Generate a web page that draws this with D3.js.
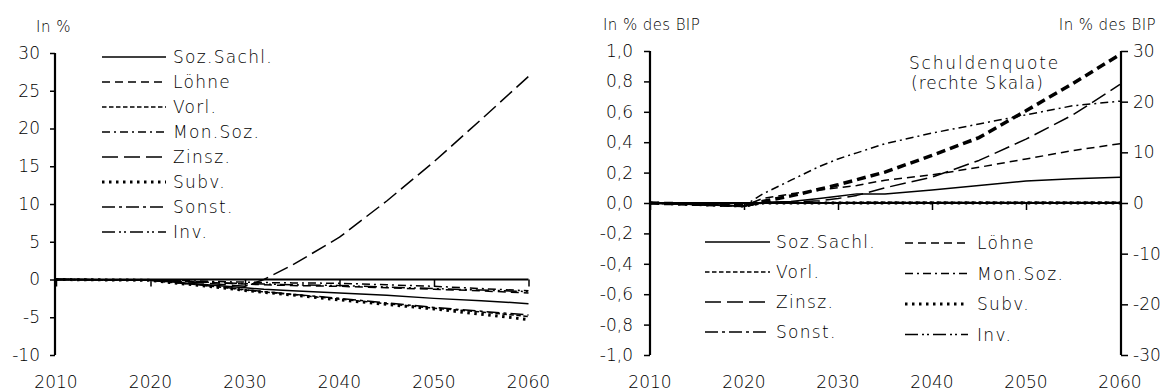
<!DOCTYPE html>
<html>
<head>
<meta charset="utf-8">
<script src="https://cdn.jsdelivr.net/npm/d3@7"></script>
<style>
  html, body { margin: 0; padding: 0; background: #fff; }
  svg { display: block; }
  text { font-family: "DejaVu Sans", sans-serif; font-weight: 200; fill: #000; }
</style>
</head>
<body>
<svg id="chart" width="1174" height="392"></svg>
<script>
// ---- data -------------------------------------------------------------
const years = [2010, 2020, 2022, 2025, 2028, 2030, 2032, 2035, 2040, 2045, 2050, 2055, 2060];
const seriesNames = ["Soz.Sachl.", "Löhne", "Vorl.", "Mon.Soz.", "Zinsz.", "Subv.", "Sonst.", "Inv."];

// Left panel: change in %
const pctSozSachl = [0, -0.1, -0.3, -0.6, -0.9, -1.1, -1.3, -1.5, -1.8, -2.1, -2.5, -2.8, -3.2];
const pctLoehne   = [0, -0.05, -0.15, -0.3, -0.5, -0.6, -0.7, -0.8, -0.9, -1.1, -1.3, -1.5, -1.8];
const pctVorl     = [0, -0.1, -0.35, -0.7, -1.1, -1.4, -1.65, -2.0, -2.6, -3.2, -3.8, -4.3, -4.9];
const pctMonSoz   = [0, -0.05, -0.1, -0.2, -0.3, -0.35, -0.4, -0.45, -0.5, -0.7, -0.9, -1.2, -1.5];
const pctZinsz    = [0, -0.05, -0.2, -0.4, -0.7, -0.9, 0.0, 1.9, 5.6, 10.4, 15.6, 21.2, 26.9];
const pctSubv     = [0, -0.1, -0.4, -0.75, -1.15, -1.45, -1.7, -2.05, -2.7, -3.3, -3.9, -4.6, -5.3];
const pctSonst    = [0, -0.1, -0.35, -0.7, -1.05, -1.35, -1.6, -1.95, -2.5, -3.1, -3.7, -4.2, -4.7];
const pctInv      = [0, -0.05, -0.15, -0.3, -0.45, -0.55, -0.6, -0.7, -0.8, -1.0, -1.2, -1.4, -1.6];

// Right panel: change in % of GDP (left scale)
const bipSozSachl = [0, -0.02, 0.005, 0.01, 0.03, 0.045, 0.06, 0.06, 0.085, 0.115, 0.145, 0.16, 0.17];
const bipLoehne   = [0, -0.02, 0.03, 0.06, 0.085, 0.1, 0.115, 0.15, 0.185, 0.235, 0.29, 0.345, 0.39];
const bipVorl     = [0, -0.02, 0, 0, 0.002, 0.003, 0.004, 0.005, 0.005, 0.005, 0.005, 0.005, 0.005];
const bipMonSoz   = [0, -0.02, 0.06, 0.15, 0.24, 0.29, 0.33, 0.39, 0.46, 0.52, 0.58, 0.64, 0.67];
const bipZinsz    = [0, -0.02, 0.0, 0.005, 0.015, 0.03, 0.05, 0.1, 0.17, 0.28, 0.42, 0.58, 0.78];
const bipSubv     = [0, -0.02, 0, 0, 0, 0, 0, 0, 0, 0, 0, 0, 0];
const bipSonst    = [0, -0.02, 0, 0, 0.002, 0.002, 0.003, 0.003, 0.003, 0.003, 0.003, 0.003, 0.003];
const bipInv      = [0, -0.02, 0, 0, 0, 0, 0, 0, 0, 0, 0, 0, 0];
// Debt ratio (right scale)
const debtRatio   = [0, -0.5, 0.3, 1.4, 2.7, 3.6, 4.6, 6.1, 9.4, 12.9, 18.2, 23.6, 29.3];

// Tick labels
const yearTicks = [2010, 2020, 2030, 2040, 2050, 2060];
const pctTicks  = [-10, -5, 0, 5, 10, 15, 20, 25, 30];
const bipTicks  = [-1, -0.8, -0.6, -0.4, -0.2, 0, 0.2, 0.4, 0.6, 0.8, 1];
const debtTicks = [-30, -20, -10, 0, 10, 20, 30];

// ---- styles per series ----------------------------------------------
const lineStyles = {
  "Soz.Sachl.": { dash: null, width: 1.5 },
  "Löhne":      { dash: "8,5", width: 1.5 },
  "Vorl.":      { dash: "4.5,2.5", width: 1.5 },
  "Mon.Soz.":   { dash: "8,4,2,4", width: 1.5 },
  "Zinsz.":     { dash: "16,6", width: 1.5 },
  "Subv.":      { dash: "2.5,4.5", width: 3 },
  "Sonst.":     { dash: "13,4,3,4", width: 1.5 },
  "Inv.":       { dash: "13,4,2,3,2,4", width: 1.5 }
};

const svg = d3.select("#chart");
const fmtComma = d => d3.format(".1f")(d).replace(".", ",").replace("−", "-");

function drawSeries(g, x, y, vals, style) {
  const line = d3.line().x((d, i) => x(years[i])).y(d => y(d));
  g.append("path")
    .attr("d", line(vals))
    .attr("fill", "none")
    .attr("stroke", "#000")
    .attr("stroke-width", style.width)
    .attr("stroke-dasharray", style.dash)
    .attr("stroke-linejoin", "round");
}

function legendItem(g, x0, x1, tx, ty, name) {
  const st = lineStyles[name];
  g.append("line").attr("x1", x0).attr("x2", x1).attr("y1", ty).attr("y2", ty)
    .attr("stroke", "#000").attr("stroke-width", st.width)
    .attr("stroke-dasharray", st.dash);
  g.append("text").attr("x", tx).attr("y", ty).attr("dy", "0.36em")
    .attr("font-size", 17).attr("letter-spacing", 1.3).text(name);
}

function styleAxis(sel) {
  sel.select(".domain").attr("stroke-width", 2.2);
  sel.selectAll(".tick line").attr("stroke-width", 1.5);
  sel.selectAll(".tick text").attr("font-size", 17)
    .attr("font-family", "DejaVu Sans, sans-serif");
}

// ---- left panel -------------------------------------------------------
{
  const x = d3.scaleLinear().domain([2010, 2060]).range([56, 528.5]);
  const y = d3.scaleLinear().domain([-10, 30]).range([355, 53]);
  const g = svg.append("g");

  g.append("text").attr("x", 36).attr("y", 32).attr("font-size", 15)
    .attr("letter-spacing", 0.5).text("In %");

  const yAx = g.append("g").attr("transform", "translate(55,0)")
    .call(d3.axisLeft(y).tickValues(pctTicks).tickSize(5).tickPadding(10)
      .tickFormat(d => String(d)));
  styleAxis(yAx);
  yAx.select(".domain").attr("d", `M0,${y(30)}V${y(-10)}`);

  // year labels along the bottom
  g.selectAll(".yl").data(yearTicks).join("text")
    .attr("x", d => x(d)).attr("y", 388).attr("text-anchor", "middle")
    .attr("font-size", 17).text(d => d);

  const series = [pctSozSachl, pctLoehne, pctVorl, pctMonSoz, pctZinsz, pctSubv, pctSonst, pctInv];
  series.forEach((vals, i) => drawSeries(g, x, y, vals, lineStyles[seriesNames[i]]));

  // zero axis with ticks pointing down
  const xAx = g.append("g").attr("transform", `translate(0,${y(0)})`)
    .call(d3.axisBottom(x).tickValues(yearTicks).tickSize(7).tickFormat(""));
  styleAxis(xAx);
  xAx.select(".domain").attr("d", `M55,0H${x(2060)}`);

  seriesNames.forEach((n, i) => legendItem(g, 102, 166, 173, 57 + i * 25, n));
}

// ---- right panel ------------------------------------------------------
{
  const x = d3.scaleLinear().domain([2010, 2060]).range([650, 1120]);
  const y = d3.scaleLinear().domain([-1, 1]).range([355, 51]);
  const y2 = d3.scaleLinear().domain([-30, 30]).range([355, 51]);
  const g = svg.append("g");

  g.append("text").attr("x", 603).attr("y", 30).attr("font-size", 15)
    .attr("letter-spacing", 0.4).text("In % des BIP");
  g.append("text").attr("x", 1156).attr("y", 30).attr("font-size", 15)
    .attr("text-anchor", "end").attr("letter-spacing", 0.4).text("In % des BIP");

  const yAx = g.append("g").attr("transform", "translate(650,0)")
    .call(d3.axisLeft(y).tickValues(bipTicks).tickSize(6).tickPadding(11)
      .tickFormat(fmtComma));
  styleAxis(yAx);
  yAx.select(".domain").attr("d", `M0,${y(1)}V${y(-1)}`);

  const y2Ax = g.append("g").attr("transform", "translate(1121,0)")
    .call(d3.axisRight(y2).tickValues(debtTicks).tickSize(7).tickPadding(5)
      .tickFormat(d => String(d)));
  styleAxis(y2Ax);
  y2Ax.select(".domain").attr("d", `M0,${y2(30)}V${y2(-30)}`);

  g.selectAll(".yl").data(yearTicks).join("text")
    .attr("x", d => x(d)).attr("y", 388).attr("text-anchor", "middle")
    .attr("font-size", 17).text(d => d);

  const series = [bipSozSachl, bipLoehne, bipVorl, bipMonSoz, bipZinsz, bipSubv, bipSonst, bipInv];
  series.forEach((vals, i) => drawSeries(g, x, y, vals, lineStyles[seriesNames[i]]));

  // debt ratio on the right-hand scale
  const debtLine = d3.line().x((d, i) => x(years[i])).y(d => y2(d));
  g.append("path").attr("d", debtLine(debtRatio)).attr("fill", "none")
    .attr("stroke", "#000").attr("stroke-width", 3.5).attr("stroke-dasharray", "9,5");

  const xAx = g.append("g").attr("transform", `translate(0,${y(0)})`)
    .call(d3.axisBottom(x).tickValues(yearTicks).tickSize(7).tickFormat(""));
  styleAxis(xAx);
  xAx.select(".domain").attr("d", `M650,0H1121`);

  g.append("text").attr("x", 909).attr("y", 63).attr("dy", "0.36em")
    .attr("font-size", 17).attr("letter-spacing", 1.8).text("Schuldenquote");
  g.append("text").attr("x", 911).attr("y", 83).attr("dy", "0.36em")
    .attr("font-size", 17).attr("letter-spacing", 1.0).text("(rechte Skala)");

  const leftCol = ["Soz.Sachl.", "Vorl.", "Zinsz.", "Sonst."];
  const rightCol = ["Löhne", "Mon.Soz.", "Subv.", "Inv."];
  leftCol.forEach((n, i) => legendItem(g, 705, 770, 776, 242 + i * 30, n));
  rightCol.forEach((n, i) => legendItem(g, 905, 968, 977, 243 + i * 30.5, n));
}
</script>
</body>
</html>
